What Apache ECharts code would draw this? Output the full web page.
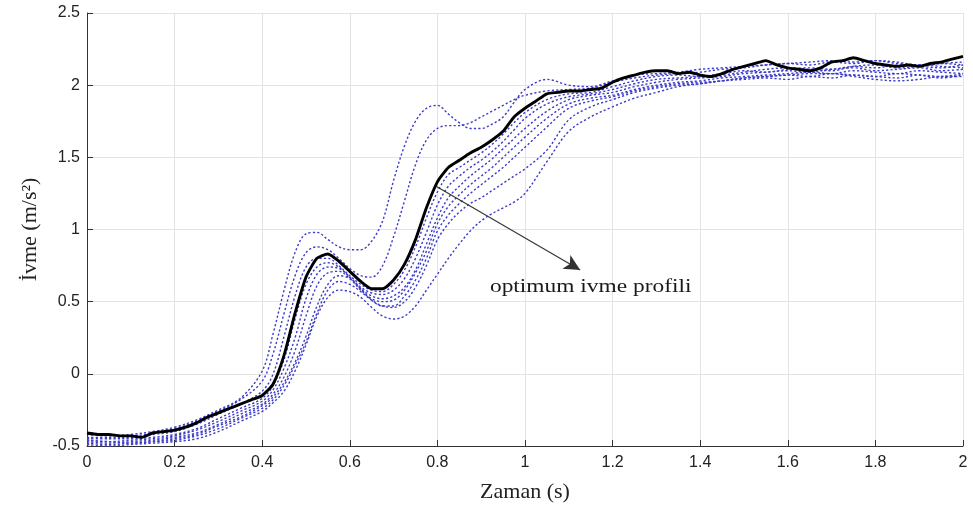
<!DOCTYPE html>
<html>
<head>
<meta charset="utf-8">
<script src="https://cdn.jsdelivr.net/npm/echarts@6/dist/echarts.min.js"></script>
<style>
  html, body { margin: 0; padding: 0; background: #fff; }
  #chart { width: 973px; height: 505px; }
</style>
</head>
<body>
<div id="chart"></div>
<script>
// Time samples (s) shared by the trial runs
const trialTime = [
  0, 0.05, 0.1, 0.15, 0.2, 0.25, 0.3, 0.35, 0.4,
  0.425, 0.45, 0.475, 0.5, 0.525, 0.55, 0.575, 0.6, 0.625, 0.65,
  0.675, 0.7, 0.725, 0.75, 0.775, 0.8, 0.825, 0.85, 0.875, 0.9, 0.925, 0.95, 0.975, 1.0,
  1.05, 1.1, 1.15, 1.2, 1.25, 1.3, 1.35, 1.4, 1.45, 1.5, 1.55, 1.6, 1.65, 1.7, 1.75, 1.8, 1.85, 1.9, 1.95, 2.0
];

// Acceleration of each trial run (m/s^2)
const run1 = [
  -0.42, -0.43, -0.42, -0.40, -0.37, -0.32, -0.25, -0.17, 0.02,
  0.28, 0.58, 0.84, 0.97, 0.98, 0.93, 0.88, 0.86, 0.86, 0.92,
  1.06, 1.34, 1.58, 1.75, 1.84, 1.86, 1.80, 1.74, 1.70, 1.70, 1.73, 1.78, 1.88, 1.97,
  2.04, 2.00, 1.99, 2.03, 2.07, 2.08, 2.09, 2.11, 2.12, 2.13, 2.14, 2.15, 2.16, 2.17, 2.16, 2.17, 2.15, 2.14, 2.13, 2.12
];
const run2 = [
  -0.41, -0.42, -0.43, -0.41, -0.38, -0.33, -0.26, -0.18, -0.05,
  0.14, 0.42, 0.68, 0.84, 0.88, 0.86, 0.80, 0.73, 0.68, 0.67,
  0.75, 0.95, 1.20, 1.45, 1.62, 1.70, 1.72, 1.72, 1.74, 1.78, 1.82, 1.86, 1.90, 1.93,
  1.96, 1.97, 1.98, 2.02, 2.05, 2.07, 2.08, 2.09, 2.11, 2.12, 2.14, 2.15, 2.14, 2.16, 2.15, 2.17, 2.16, 2.14, 2.15, 2.14
];
const run3 = [
  -0.44, -0.44, -0.44, -0.42, -0.40, -0.35, -0.28, -0.21, -0.12,
  0.00, 0.26, 0.54, 0.74, 0.80, 0.80, 0.75, 0.68, 0.62, 0.58,
  0.57, 0.62, 0.72, 0.88, 1.08, 1.26, 1.38, 1.43, 1.48, 1.53, 1.59, 1.66, 1.74, 1.81,
  1.90, 1.94, 1.95, 1.99, 2.03, 2.06, 2.07, 2.06, 2.07, 2.09, 2.11, 2.12, 2.11, 2.10, 2.13, 2.14, 2.12, 2.13, 2.15, 2.16
];
const run4 = [
  -0.45, -0.45, -0.45, -0.44, -0.42, -0.38, -0.31, -0.24, -0.17,
  -0.08, 0.10, 0.38, 0.62, 0.74, 0.77, 0.74, 0.67, 0.60, 0.56,
  0.55, 0.58, 0.66, 0.80, 0.98, 1.17, 1.30, 1.37, 1.43, 1.48, 1.54, 1.61, 1.69, 1.77,
  1.87, 1.92, 1.94, 1.97, 2.01, 2.04, 2.05, 2.06, 2.08, 2.10, 2.09, 2.11, 2.12, 2.11, 2.13, 2.12, 2.14, 2.13, 2.12, 2.14
];
const run5 = [
  -0.46, -0.47, -0.46, -0.45, -0.43, -0.39, -0.33, -0.26, -0.19,
  -0.11, 0.04, 0.25, 0.52, 0.69, 0.74, 0.73, 0.67, 0.59, 0.54,
  0.52, 0.54, 0.60, 0.72, 0.90, 1.08, 1.22, 1.30, 1.37, 1.43, 1.49, 1.56, 1.63, 1.70,
  1.82, 1.90, 1.93, 1.95, 1.99, 2.02, 2.04, 2.05, 2.06, 2.08, 2.09, 2.10, 2.09, 2.11, 2.12, 2.10, 2.11, 2.12, 2.10, 2.11
];
const run6 = [
  -0.47, -0.48, -0.47, -0.46, -0.44, -0.41, -0.35, -0.28, -0.21,
  -0.14, -0.02, 0.16, 0.40, 0.61, 0.70, 0.71, 0.66, 0.58, 0.52,
  0.50, 0.51, 0.58, 0.70, 0.85, 1.04, 1.16, 1.24, 1.31, 1.37, 1.43, 1.50, 1.57, 1.64,
  1.77, 1.87, 1.91, 1.93, 1.97, 2.00, 2.02, 2.03, 2.05, 2.06, 2.07, 2.08, 2.09, 2.08, 2.10, 2.09, 2.08, 2.10, 2.09, 2.08
];
const run7 = [
  -0.46, -0.47, -0.48, -0.47, -0.45, -0.42, -0.36, -0.30, -0.22,
  -0.16, -0.06, 0.08, 0.26, 0.47, 0.62, 0.68, 0.66, 0.59, 0.51,
  0.47, 0.47, 0.54, 0.65, 0.80, 0.99, 1.10, 1.18, 1.25, 1.31, 1.37, 1.43, 1.50, 1.57,
  1.71, 1.84, 1.89, 1.92, 1.96, 1.99, 2.01, 2.02, 2.03, 2.05, 2.06, 2.07, 2.06, 2.08, 2.07, 2.06, 2.08, 2.07, 2.05, 2.07
];
const run8 = [
  -0.48, -0.49, -0.48, -0.47, -0.46, -0.43, -0.38, -0.31, -0.24,
  -0.18, -0.08, 0.06, 0.22, 0.42, 0.58, 0.64, 0.62, 0.57, 0.51,
  0.47, 0.46, 0.50, 0.60, 0.75, 0.93, 1.04, 1.12, 1.18, 1.22, 1.27, 1.32, 1.37, 1.42,
  1.55, 1.76, 1.85, 1.90, 1.95, 1.98, 2.00, 2.01, 2.03, 2.04, 2.05, 2.04, 2.06, 2.05, 2.07, 2.06, 2.05, 2.07, 2.06, 2.08
];
const run9 = [
  -0.49, -0.50, -0.49, -0.48, -0.47, -0.45, -0.40, -0.33, -0.26,
  -0.20, -0.12, 0.02, 0.20, 0.40, 0.53, 0.58, 0.57, 0.53, 0.46,
  0.40, 0.38, 0.40, 0.47, 0.58, 0.69, 0.80, 0.90, 0.99, 1.06, 1.11, 1.15, 1.19, 1.25,
  1.47, 1.68, 1.78, 1.85, 1.91, 1.95, 1.99, 2.01, 2.03, 2.05, 2.06, 2.07, 2.08, 2.08, 2.06, 2.04, 2.03, 2.04, 2.06, 2.06
];
const trialRuns = [run1, run2, run3, run4, run5, run6, run7, run8, run9];

// Optimum acceleration profile, sampled every 0.025 s
const optimumTime = [
  0, 0.025, 0.05, 0.075, 0.1, 0.125, 0.15, 0.175, 0.2, 0.225, 0.25, 0.275, 0.3, 0.325, 0.35, 0.375,
  0.4, 0.425, 0.45, 0.475, 0.5, 0.525, 0.55, 0.575, 0.6, 0.625, 0.65, 0.675, 0.7, 0.725, 0.75, 0.775,
  0.8, 0.825, 0.85, 0.875, 0.9, 0.925, 0.95, 0.975, 1.0, 1.025, 1.05, 1.075, 1.1, 1.125, 1.15, 1.175,
  1.2, 1.225, 1.25, 1.275, 1.3, 1.325, 1.35, 1.375, 1.4, 1.425, 1.45, 1.475, 1.5, 1.525, 1.55, 1.575,
  1.6, 1.625, 1.65, 1.675, 1.7, 1.725, 1.75, 1.775, 1.8, 1.825, 1.85, 1.875, 1.9, 1.925, 1.95, 1.975, 2.0
];
const optimumAccel = [
  -0.41, -0.42, -0.42, -0.43, -0.43, -0.44, -0.41, -0.40, -0.39, -0.37, -0.34, -0.30, -0.27, -0.24, -0.21, -0.18,
  -0.15, -0.07, 0.13, 0.42, 0.67, 0.80, 0.83, 0.78, 0.71, 0.64, 0.59, 0.59, 0.65, 0.76, 0.93, 1.15,
  1.33, 1.43, 1.48, 1.53, 1.57, 1.62, 1.68, 1.78, 1.84, 1.89, 1.94, 1.95, 1.96, 1.96, 1.97, 1.98,
  2.02, 2.05, 2.07, 2.09, 2.10, 2.10, 2.08, 2.09, 2.07, 2.06, 2.08, 2.11, 2.13, 2.15, 2.17, 2.14,
  2.12, 2.11, 2.10, 2.12, 2.16, 2.17, 2.19, 2.17, 2.15, 2.14, 2.13, 2.14, 2.13, 2.15, 2.16, 2.18, 2.20
];

// Annotation: arrow from the optimum curve to its caption
const arrowFrom = [0.797, 1.30];
const arrowTo = [1.126, 0.72];
const captionAt = [0.92, 0.6];
const captionText = 'optimum ivme profili';

const xTicks = { min: 0, max: 2, step: 0.2 };
const yTicks = { min: -0.5, max: 2.5, step: 0.5 };

const pair = (xs, ys) => xs.map((x, i) => [x, ys[i]]);

const chart = echarts.init(document.getElementById('chart'), null, { renderer: 'canvas' });

const tickFont = { fontFamily: 'Liberation Sans, Arial, sans-serif', fontSize: 16, color: '#222' };
const titleFont = { fontFamily: 'Liberation Serif, Times New Roman, serif', fontSize: 22, color: '#222' };

const series = trialRuns.map((run, i) => ({
  name: 'run' + (i + 1),
  type: 'line',
  data: pair(trialTime, run),
  showSymbol: false,
  smooth: 0.35,
  lineStyle: { color: '#3c3cc8', width: 1.4, type: [2.2, 2.2] },
  z: 2,
  silent: true
}));

series.push({
  name: 'optimum',
  type: 'line',
  data: pair(optimumTime, optimumAccel),
  showSymbol: false,
  smooth: 0.2,
  lineStyle: { color: '#000', width: 2.9 },
  z: 5,
  silent: true,
  markLine: {
    silent: true,
    symbol: ['none', 'arrow'],
    symbolSize: [12, 16],
    label: { show: false },
    lineStyle: { color: '#333', width: 1.1, type: 'solid' },
    data: [[{ coord: arrowFrom }, { coord: arrowTo }]]
  }
});

chart.setOption({
  animation: false,
  backgroundColor: '#fff',
  grid: { left: 87, right: 10, top: 13, bottom: 59, containLabel: false, outerBoundsMode: 'none' },
  xAxis: {
    type: 'value',
    min: xTicks.min, max: xTicks.max, interval: xTicks.step,
    name: 'Zaman (s)',
    nameLocation: 'middle',
    nameGap: 35,
    nameTextStyle: titleFont,
    axisLine: { show: true, onZero: false, lineStyle: { color: '#333', width: 1 } },
    axisTick: { show: true, inside: true, length: 6, lineStyle: { color: '#333' } },
    axisLabel: Object.assign({ margin: 9, formatter: v => String(+v.toFixed(1)) }, tickFont),
    splitLine: { show: true, lineStyle: { color: '#e3e3e3', width: 1 } }
  },
  yAxis: {
    type: 'value',
    min: yTicks.min, max: yTicks.max, interval: yTicks.step,
    name: 'İvme (m/s²)',
    nameLocation: 'middle',
    nameGap: 46,
    nameTextStyle: titleFont,
    axisLine: { show: true, onZero: false, lineStyle: { color: '#333', width: 1 } },
    axisTick: { show: true, inside: true, length: 6, lineStyle: { color: '#333' } },
    axisLabel: Object.assign({ margin: 7, formatter: v => String(+v.toFixed(1)) }, tickFont),
    splitLine: { show: true, lineStyle: { color: '#e3e3e3', width: 1 } }
  },
  series: series
});

// Caption placed through the chart's own coordinate system
const captionPos = chart.convertToPixel({ gridIndex: 0 }, captionAt);
chart.setOption({
  graphic: [{
    type: 'text',
    x: captionPos[0],
    y: captionPos[1],
    scaleX: 1.3,
    silent: true,
    style: {
      text: captionText,
      font: '18px "Liberation Serif", "Times New Roman", serif',
      fill: '#1a1a1a',
      textVerticalAlign: 'middle'
    }
  }]
});
</script>
</body>
</html>
